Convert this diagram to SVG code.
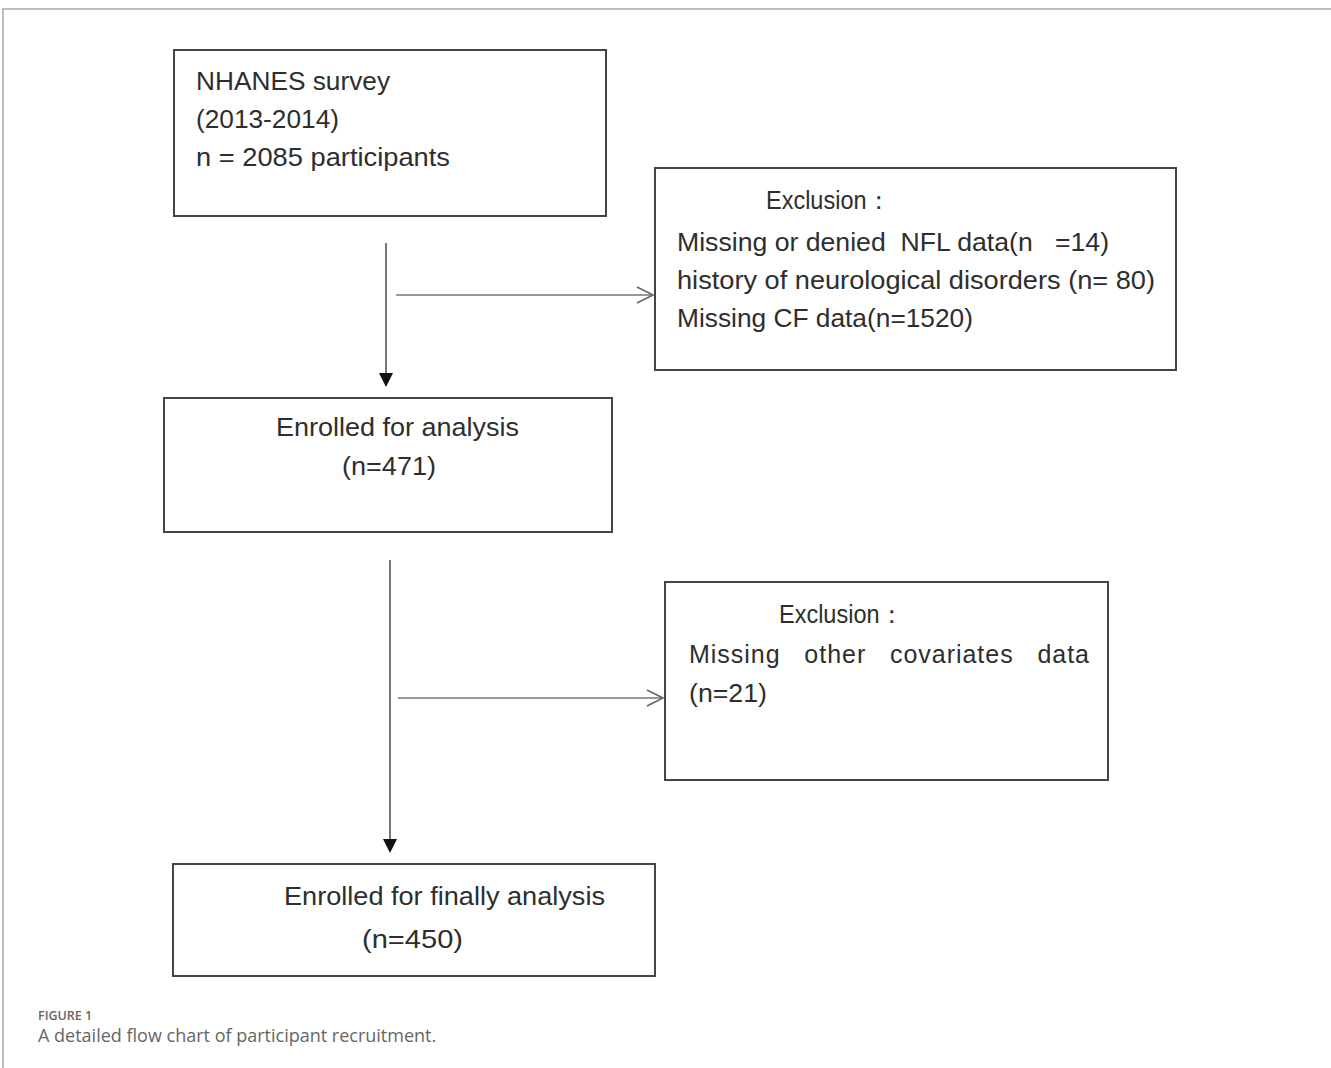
<svg xmlns="http://www.w3.org/2000/svg" width="1331" height="1068" viewBox="0 0 1331 1068">
<defs>
<marker id="fill" markerWidth="14" markerHeight="14" refX="12" refY="7" orient="auto" markerUnits="userSpaceOnUse" viewBox="0 0 14 14">
<path d="M0,0 L14,7 L0,14 Z" fill="#111"/>
</marker>
<marker id="open" markerWidth="20" markerHeight="20" refX="18" refY="10" orient="auto" markerUnits="userSpaceOnUse" viewBox="0 0 20 20">
<path d="M2,2 L18,10 L2,18" fill="none" stroke="#666" stroke-width="1.6"/>
</marker>
<style>
.box{fill:#fff;stroke:#444;stroke-width:2}
.t{font-family:"Liberation Sans",Arial,sans-serif;font-size:25px;fill:#2e2e2e}
.cap{font-family:"Open Sans","Liberation Sans",sans-serif;fill:#666}
.v{stroke:#555;stroke-width:1.6;fill:none}
.h{stroke:#777;stroke-width:1.6;fill:none}
</style>
</defs>
<rect width="1331" height="1068" fill="#fff"/>
<path d="M3,1068 L3,9 L1331,9" fill="none" stroke="#aaa" stroke-width="1.5"/>
<g id="n1">
<rect class="box" x="174" y="50" width="432" height="166"/>
<text class="t" x="196" y="90" textLength="194" lengthAdjust="spacingAndGlyphs">NHANES survey</text>
<text class="t" x="196" y="128" textLength="143" lengthAdjust="spacingAndGlyphs">(2013-2014)</text>
<text class="t" x="196" y="166" textLength="254" lengthAdjust="spacingAndGlyphs">n = 2085 participants</text>
</g>
<g id="n2">
<rect class="box" x="655" y="168" width="521" height="202"/>
<text class="t" x="766" y="209" textLength="124" lengthAdjust="spacingAndGlyphs">Exclusion：</text>
<text class="t" x="677" y="251" textLength="432" lengthAdjust="spacingAndGlyphs" xml:space="preserve">Missing or denied  NFL data(n   =14)</text>
<text class="t" x="677" y="289" textLength="478" lengthAdjust="spacingAndGlyphs">history of neurological disorders (n= 80)</text>
<text class="t" x="677" y="327" textLength="296" lengthAdjust="spacingAndGlyphs">Missing CF data(n=1520)</text>
</g>
<g id="n3">
<rect class="box" x="164" y="398" width="448" height="134"/>
<text class="t" x="276" y="436" textLength="243" lengthAdjust="spacingAndGlyphs">Enrolled for analysis</text>
<text class="t" x="342" y="475" textLength="94" lengthAdjust="spacingAndGlyphs">(n=471)</text>
</g>
<g id="n4">
<rect class="box" x="665" y="582" width="443" height="198"/>
<text class="t" x="779" y="623" textLength="124" lengthAdjust="spacingAndGlyphs">Exclusion：</text>
<text class="t" x="689" y="663" textLength="400" xml:space="preserve">Missing   other   covariates   data</text>
<text class="t" x="689" y="702" textLength="78" lengthAdjust="spacingAndGlyphs">(n=21)</text>
</g>
<g id="n5">
<rect class="box" x="173" y="864" width="482" height="112"/>
<text class="t" x="284" y="905" textLength="321" lengthAdjust="spacingAndGlyphs">Enrolled for finally analysis</text>
<text class="t" x="362" y="948" textLength="101" lengthAdjust="spacingAndGlyphs">(n=450)</text>
</g>
<g id="connectors">
<line class="v" x1="386" y1="243" x2="386" y2="385" marker-end="url(#fill)"/>
<line class="h" x1="396" y1="295" x2="653" y2="295" marker-end="url(#open)"/>
<line class="v" x1="390" y1="560" x2="390" y2="851" marker-end="url(#fill)"/>
<line class="h" x1="398" y1="698" x2="663" y2="698" marker-end="url(#open)"/>
</g>
<text class="cap" x="38" y="1020" font-size="12.5" font-weight="600">FIGURE 1</text>
<text class="cap" x="38" y="1042" font-size="18">A detailed flow chart of participant recruitment.</text>
</svg>
